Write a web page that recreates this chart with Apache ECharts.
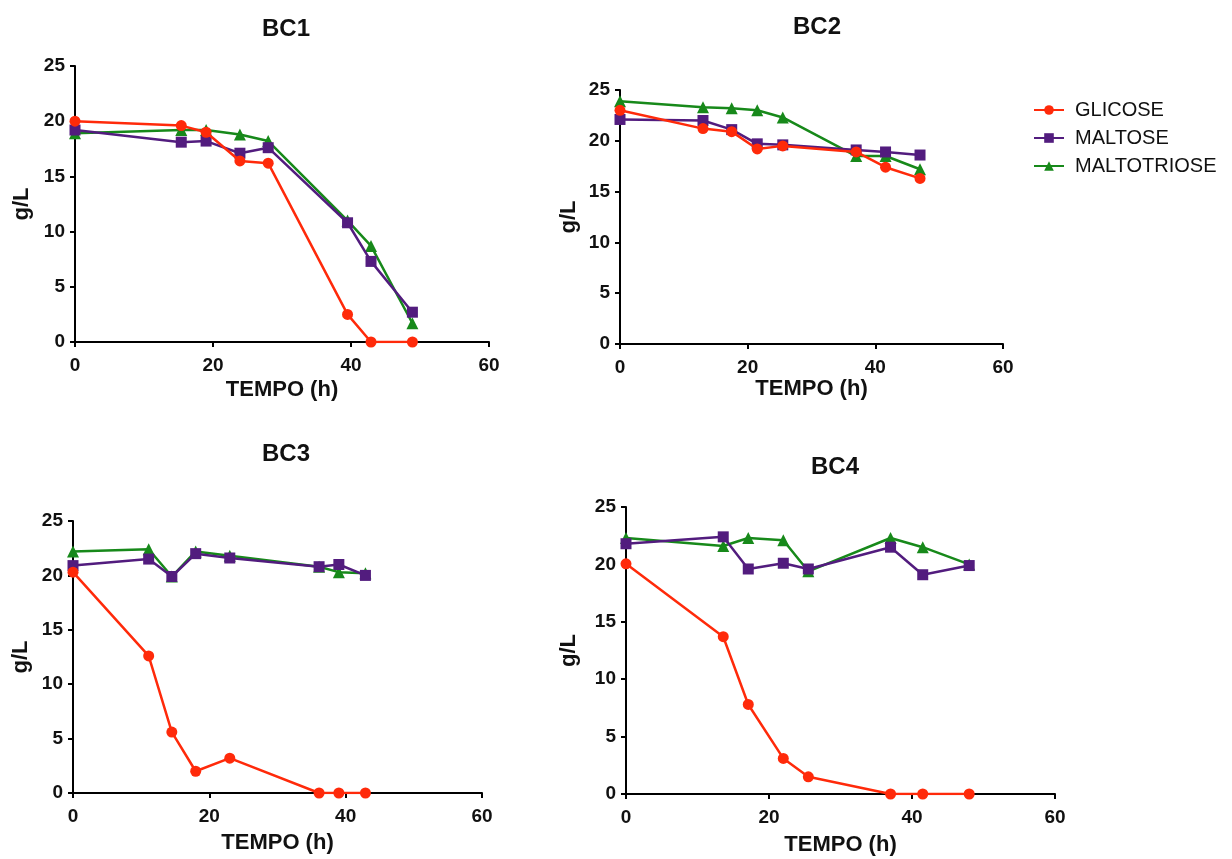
<!DOCTYPE html>
<html lang="pt">
<head>
    <meta charset="UTF-8">
    <title>BC1 - BC4</title>
    <script src="https://cdn.jsdelivr.net/npm/echarts@6/dist/echarts.min.js"></script>
</head>
<body style="margin:0;background:#fff;">
<div id="main" style="width:1232px;height:859px;"></div>
<script type="text/javascript">
    // tempos (h) e concentrações (g/L)
    var bc1Tempo = [0, 15.4, 19, 23.9, 28, 39.5, 42.9, 48.9];
    var bc1Glicose = [20.0, 19.6, 19.0, 16.4, 16.2, 2.5, 0, 0];
    var bc1Maltose = [19.2, 18.1, 18.2, 17.1, 17.6, 10.8, 7.3, 2.7];
    var bc1Maltotriose = [18.9, 19.2, 19.2, 18.8, 18.2, 11.0, 8.7, 1.7];

    var bc2Tempo = [0, 13, 17.5, 21.5, 25.5, 37, 41.6, 47];
    var bc2Glicose = [23.0, 21.2, 20.9, 19.2, 19.5, 18.9, 17.4, 16.3];
    var bc2Maltose = [22.1, 22.0, 21.1, 19.7, 19.6, 19.1, 18.9, 18.6];
    var bc2Maltotriose = [23.9, 23.3, 23.2, 23.0, 22.3, 18.5, 18.5, 17.2];

    var bc3Tempo = [0, 11.1, 14.5, 18, 23, 36.1, 39, 42.9];
    var bc3Glicose = [20.3, 12.6, 5.6, 2.0, 3.2, 0, 0, 0];
    var bc3Maltose = [20.9, 21.5, 19.9, 22.0, 21.6, 20.8, 21.0, 20.0];
    var bc3Maltotriose = [22.2, 22.4, 19.9, 22.2, 21.8, 20.8, 20.3, 20.2];

    var bc4Tempo = [0, 13.6, 17.1, 22, 25.5, 37, 41.5, 48];
    var bc4Glicose = [20.05, 13.7, 7.8, 3.1, 1.5, 0, 0, 0];
    var bc4Maltose = [21.8, 22.4, 19.6, 20.1, 19.6, 21.5, 19.1, 19.9];
    var bc4Maltotriose = [22.3, 21.6, 22.3, 22.1, 19.4, 22.3, 21.5, 20.0];

    var titulos = ['BC1', 'BC2', 'BC3', 'BC4'];
    var nomes = ['GLICOSE', 'MALTOSE', 'MALTOTRIOSE'];
    var cores = ['#ff2a0a', '#521c7e', '#17891a'];
    var simbolos = ['circle', 'rect', 'triangle'];

    var paineis = [
        {tempo: bc1Tempo, vals: [bc1Glicose, bc1Maltose, bc1Maltotriose]},
        {tempo: bc2Tempo, vals: [bc2Glicose, bc2Maltose, bc2Maltotriose]},
        {tempo: bc3Tempo, vals: [bc3Glicose, bc3Maltose, bc3Maltotriose]},
        {tempo: bc4Tempo, vals: [bc4Glicose, bc4Maltose, bc4Maltotriose]}
    ];

    // posição de cada painel na página
    var grids = [
        {left: 75, top: 66, width: 414, height: 276},
        {left: 620, top: 90, width: 383, height: 254},
        {left: 73, top: 521, width: 409, height: 272},
        {left: 626, top: 507, width: 429, height: 287}
    ];
    var tituloPos = [[281, 12], [812, 10], [281, 437], [830, 450]];
    var xNameGap = [37, 33, 39, 40];
    var yNameGap = [42, 40, 41, 46];

    var fonte = 'Liberation Sans, Arial, sans-serif';

    function pares(t, v) {
        var d = [];
        for (var i = 0; i < t.length; i++) {
            d.push([t[i], v[i]]);
        }
        return d;
    }

    var eixoLinha = {show: true, lineStyle: {color: '#000', width: 2}};
    var eixoTick = {show: true, length: 5, lineStyle: {color: '#000', width: 2}};
    var eixoLabel = {color: '#111', fontFamily: fonte, fontWeight: 'bold', fontSize: 19};
    var nomeStyle = {color: '#111', fontFamily: fonte, fontWeight: 'bold', fontSize: 22};

    var title = [], xAxis = [], yAxis = [], series = [];
    for (var p = 0; p < 4; p++) {
        title.push({
            text: titulos[p],
            left: tituloPos[p][0],
            top: tituloPos[p][1],
            textAlign: 'center',
            textStyle: {fontFamily: fonte, fontWeight: 'bold', fontSize: 24, color: '#111'}
        });
        xAxis.push({
            type: 'value', gridIndex: p, min: 0, max: 60, interval: 20,
            name: 'TEMPO (h)', nameLocation: 'middle', nameGap: xNameGap[p],
            nameTextStyle: nomeStyle,
            axisLine: eixoLinha, axisTick: eixoTick,
            axisLabel: Object.assign({margin: 14}, eixoLabel),
            splitLine: {show: false}
        });
        yAxis.push({
            type: 'value', gridIndex: p, min: 0, max: 25, interval: 5,
            name: 'g/L', nameLocation: 'middle', nameGap: yNameGap[p], nameRotate: 90,
            nameTextStyle: nomeStyle,
            axisLine: eixoLinha, axisTick: eixoTick,
            axisLabel: Object.assign({margin: 10}, eixoLabel),
            splitLine: {show: false}
        });
        for (var s = 0; s < 3; s++) {
            series.push({
                name: nomes[s],
                type: 'line',
                xAxisIndex: p,
                yAxisIndex: p,
                data: pares(paineis[p].tempo, paineis[p].vals[s]),
                symbol: simbolos[s],
                symbolSize: s === 2 ? 12 : 11,
                showAllSymbol: true,
                lineStyle: {color: cores[s], width: 2.5},
                itemStyle: {color: cores[s], borderWidth: 0},
                z: 2 + (2 - s),
                animation: false
            });
        }
    }

    var myChart = echarts.init(document.getElementById('main'));
    myChart.setOption({
        backgroundColor: '#fff',
        animation: false,
        title: title,
        legend: {
            data: nomes,
            orient: 'vertical',
            left: 1028,
            top: 95,
            itemWidth: 30,
            itemHeight: 12,
            itemGap: 8,
            textStyle: {fontFamily: fonte, fontSize: 20, color: '#111', padding: [0, 0, 0, 6]}
        },
        grid: grids,
        xAxis: xAxis,
        yAxis: yAxis,
        series: series
    });
</script>
</body>
</html>
